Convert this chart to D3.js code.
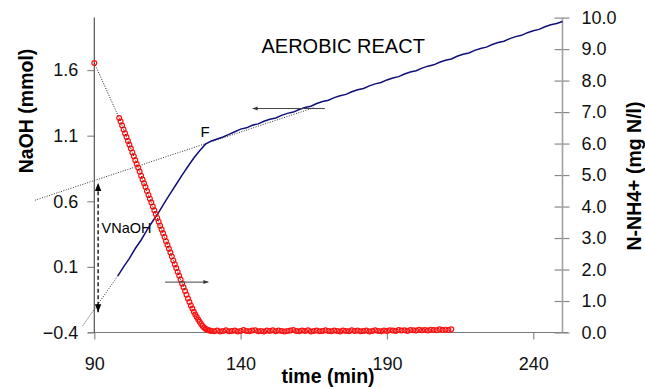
<!DOCTYPE html>
<html><head><meta charset="utf-8">
<script src="https://cdn.jsdelivr.net/npm/d3@7/dist/d3.min.js"></script>
<style>
body{margin:0;background:#fff;}
svg{display:block;font-family:"Liberation Sans",Arial,sans-serif;}
</style></head>
<body><svg id="c" width="645" height="389"></svg>
<script>
// ---- data ----
const xTicks = [90, 140, 190, 240];
const leftTicks = [-0.4, 0.1, 0.6, 1.1, 1.6];
const rightTicks = [0,1,2,3,4,5,6,7,8,9,10];

// NaOH dosed (mmol), left axis
const blueTime = [98,100,102,104,106,108,110,112,114,116,118,120,122,124,126,128,130,132,134,136,138,140,
 142,144,146,148,150,152,154,156,158,160,162,164,166,168,170,172,174,176,178,180,182,184,186,188,190,
 192,194,196,198,200,202,204,206,208,210,212,214,216,218,220,222,224,226,228,230,232,234,236,238,240,
 242,244,246,248,250];
const blueNaOH = [0.03,0.10,0.165,0.24,0.305,0.38,0.45,0.515,0.59,0.66,0.73,0.80,0.865,0.93,0.985,1.035,1.06,1.075,1.09,1.11,1.13,1.15,
 1.16,1.18,1.19,1.21,1.225,1.235,1.255,1.27,1.28,1.30,1.315,1.325,1.345,1.36,1.37,1.39,1.405,1.415,1.435,1.45,1.46,1.48,1.495,1.505,1.525,
 1.54,1.55,1.57,1.585,1.595,1.615,1.63,1.64,1.66,1.675,1.685,1.705,1.72,1.73,1.75,1.765,1.775,1.795,1.81,1.82,1.84,1.855,1.865,1.885,1.90,
 1.91,1.93,1.945,1.955,1.97];

// N-NH4+ (mg N/l), right axis
const redFirst = [[90, 8.56]];
const redDescent = [[98.5,6.81],[99,6.70],[99.5,6.57],[100,6.45],[100.5,6.33],[101,6.21],[101.5,6.08],[102,5.96],[102.5,5.84],[103,5.72],
 [103.5,5.60],[104,5.47],[104.5,5.35],[105,5.23],[105.5,5.11],[106,4.98],[106.5,4.86],[107,4.74],[107.5,4.62],[108,4.49],
 [108.5,4.37],[109,4.25],[109.5,4.13],[110,4.00],[110.5,3.88],[111,3.76],[111.5,3.64],[112,3.52],[112.5,3.39],[113,3.27],
 [113.5,3.15],[114,3.03],[114.5,2.90],[115,2.78],[115.5,2.66],[116,2.54],[116.5,2.41],[117,2.29],[117.5,2.17],[118,2.05],
 [118.5,1.92],[119,1.80],[119.5,1.68],[120,1.56],[120.5,1.44],[121,1.32],[121.5,1.20],[122,1.08],[122.5,0.97],[123,0.86],
 [123.5,0.76],[124,0.66],[124.5,0.57],[125,0.49],[125.5,0.41],[126,0.34],[126.5,0.27],[127,0.21],[127.5,0.16],[128,0.12],
 [128.5,0.09],[129,0.07],[129.5,0.06],[130,0.05]];
const redFlat = [[131,0.04],[132,0.06],[133,0.03],[134,0.05],[135,0.07],[136,0.04],[137,0.05],[138,0.06],[139,0.03],[140,0.05],
 [141,0.08],[142,0.05],[143,0.04],[144,0.06],[145,0.07],[146,0.04],[147,0.05],[148,0.03],[149,0.06],[150,0.05],
 [151,0.07],[152,0.04],[153,0.06],[154,0.05],[155,0.03],[156,0.05],[157,0.06],[158,0.08],[159,0.05],[160,0.04],
 [161,0.06],[162,0.05],[163,0.07],[164,0.03],[165,0.05],[166,0.06],[167,0.04],[168,0.05],[169,0.07],[170,0.05],
 [171,0.04],[172,0.06],[173,0.05],[174,0.03],[175,0.06],[176,0.05],[177,0.04],[178,0.07],[179,0.05],[180,0.06],
 [181,0.04],[182,0.05],[183,0.06],[184,0.03],[185,0.05],[186,0.07],[187,0.05],[188,0.04],[189,0.06],[190,0.05],
 [191,0.07],[192,0.06],[193,0.05],[194,0.08],[195,0.06],[196,0.07],[197,0.05],[198,0.08],[199,0.07],[200,0.06],
 [201,0.09],[202,0.07],[203,0.08],[204,0.06],[205,0.09],[206,0.08],[207,0.07],[208,0.10],[209,0.08],[210,0.09],
 [211,0.08],[212,0.10]];

// extrapolation lines (left axis units)
const fitLate = [[69.7, 0.608], [165, 1.313]];
const fitEarly = [[86.1, -0.347], [98, 0.03]];
const vNaOH = {t: 91.3, top: 0.74, bottom: -0.245};
const arrowToRight = {y: 1.6, t1: 114.2, t2: 129.0};   // right-axis units
const arrowToLeft = {y: 1.307, t1: 168.8, t2: 144.1};  // left-axis units

// ---- scales ----
const svg = d3.select("#c");
const x = d3.scaleLinear().domain([90, 250]).range([94.3, 562.5]);
const yL = d3.scaleLinear().domain([-0.4, 2.0]).range([332.5, 17.6]);
const yR = d3.scaleLinear().domain([0, 10]).range([332.5, 17.6]);

const defs = svg.append("defs");
defs.append("marker").attr("id","ah").attr("viewBox","0 0 10 10").attr("refX",10).attr("refY",5)
  .attr("markerWidth",8).attr("markerHeight",8).attr("markerUnits","userSpaceOnUse").attr("orient","auto-start-reverse")
  .append("path").attr("d","M0,1 L10,5 L0,9 Z").attr("fill","#000");
defs.append("marker").attr("id","ahs").attr("viewBox","0 0 10 10").attr("refX",10).attr("refY",5)
  .attr("markerWidth",6).attr("markerHeight",5).attr("markerUnits","userSpaceOnUse").attr("orient","auto")
  .append("path").attr("d","M0,1 L10,5 L0,9 Z").attr("fill","#333");

// ---- axes ----
const gx = svg.append("g").attr("transform","translate(0,332.5)")
  .call(d3.axisBottom(x).tickValues(xTicks).tickSize(7).tickSizeOuter(0).tickPadding(18));
gx.select(".domain").remove();
svg.append("line").attr("x1",88).attr("x2",568).attr("y1",332.5).attr("y2",332.5).attr("stroke","#7a7a7a").attr("stroke-width",1.2);

const gl = svg.append("g").attr("transform","translate(94.3,0)")
  .call(d3.axisLeft(yL).tickValues(leftTicks).tickFormat(d3.format(".1f")).tickSize(7).tickSizeOuter(0).tickPadding(9));
gl.select(".domain").remove();
svg.append("line").attr("x1",94.3).attr("x2",94.3).attr("y1",17.6).attr("y2",332.5).attr("stroke","#555").attr("stroke-width",1.2);

const gr = svg.append("g").attr("transform","translate(562.5,0)")
  .call(d3.axisRight(yR).tickValues(rightTicks).tickFormat(d3.format(".1f")).tickSize(7).tickSizeOuter(0).tickPadding(12));
gr.select(".domain").remove();
gr.selectAll(".tick line").attr("x1",-8);
svg.append("line").attr("x1",562.5).attr("x2",562.5).attr("y1",17.6).attr("y2",332.5).attr("stroke","#a0a0a0").attr("stroke-width",1.6);

[gx, gl, gr].forEach(g => {
  g.selectAll(".tick line").attr("stroke","#8a8a8a").attr("stroke-width",1.2);
  g.selectAll(".tick text").attr("font-size",18).attr("fill","#111").attr("font-family","'Liberation Sans',Arial,sans-serif");
});

// axis titles
svg.append("text").attr("transform","translate(33,111) rotate(-90)").attr("text-anchor","middle")
  .attr("font-size",19.5).attr("font-weight","bold").text("NaOH (mmol)");
svg.append("text").attr("transform","translate(641,176) rotate(-90)").attr("text-anchor","middle")
  .attr("font-size",19.5).attr("font-weight","bold").text("N-NH4+ (mg N/l)");
svg.append("text").attr("x",328).attr("y",383).attr("text-anchor","middle")
  .attr("font-size",19.5).attr("font-weight","bold").text("time (min)");

// annotations
svg.append("text").attr("x",261.5).attr("y",53).attr("font-size",20).text("AEROBIC REACT");
svg.append("text").attr("x",200.5).attr("y",137).attr("font-size",15).text("F");
svg.append("text").attr("x",101.5).attr("y",233).attr("font-size",14.5).text("VNaOH");

// ---- extrapolation dotted lines ----
const lineL = d3.line().x(d => x(d[0])).y(d => yL(d[1]));
const lineR = d3.line().x(d => x(d[0])).y(d => yR(d[1]));
svg.append("path").attr("d", lineL(fitLate)).attr("fill","none").attr("stroke","#333").attr("stroke-width",1).attr("stroke-dasharray","1,1.5");
svg.append("path").attr("d", lineL(fitEarly)).attr("fill","none").attr("stroke","#333").attr("stroke-width",1).attr("stroke-dasharray","1,1.5");

// ---- blue NaOH line ----
const bluePts = blueTime.map((t,i) => [t, blueNaOH[i]]);
svg.append("path").attr("d", lineL(bluePts)).attr("fill","none").attr("stroke","#10107a").attr("stroke-width",1.5);

// ---- red NH4 circles ----
const redAll = redFirst.concat(redDescent, redFlat);
const redLinePts = redAll.filter(d => d[0] <= 121);
svg.append("g").selectAll("circle").data(redAll).join("circle")
  .attr("cx", d => x(d[0])).attr("cy", d => yR(d[1])).attr("r", 2.4)
  .attr("fill","none").attr("stroke","#ff1010").attr("stroke-width",1.2);
svg.append("path").attr("d", lineR(redLinePts)).attr("fill","none").attr("stroke","#222").attr("stroke-width",1).attr("stroke-dasharray","1,1.5");

// ---- arrows ----
svg.append("line").attr("x1",x(vNaOH.t)).attr("x2",x(vNaOH.t)).attr("y1",yL(vNaOH.bottom)).attr("y2",yL(vNaOH.top))
  .attr("stroke","#000").attr("stroke-width",1.3).attr("stroke-dasharray","4,2.5")
  .attr("marker-start","url(#ah)").attr("marker-end","url(#ah)");
svg.append("line").attr("x1",x(arrowToRight.t1)).attr("x2",x(arrowToRight.t2)).attr("y1",yR(arrowToRight.y)).attr("y2",yR(arrowToRight.y))
  .attr("stroke","#444").attr("stroke-width",1).attr("marker-end","url(#ahs)");
svg.append("line").attr("x1",x(arrowToLeft.t1)).attr("x2",x(arrowToLeft.t2)).attr("y1",yL(arrowToLeft.y)).attr("y2",yL(arrowToLeft.y))
  .attr("stroke","#444").attr("stroke-width",1).attr("marker-end","url(#ahs)");
</script></body></html>
